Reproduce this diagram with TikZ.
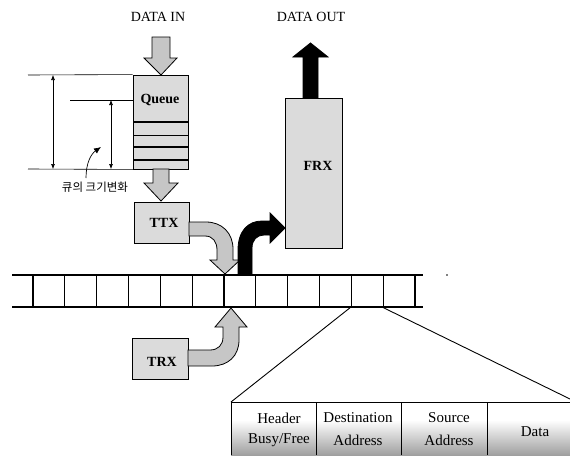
\documentclass[tikz,border=0pt]{standalone}
\usepackage{fontspec}
\setmainfont{Liberation Serif}
\newfontfamily\krfont{Noto Sans CJK KR}
\usetikzlibrary{arrows.meta}
\begin{document}
\begin{tikzpicture}[x=1pt,y=-1pt,
  lbl/.style={font=\fontsize{14}{16}\selectfont, inner sep=0pt},
  boxlbl/.style={font=\fontsize{14}{16}\selectfont\bfseries, inner sep=0pt},
  celllbl/.style={font=\fontsize{15}{17}\selectfont, inner sep=0pt},
  graybox/.style={draw=black, fill=gray!28, line width=0.9pt, inner sep=0pt},
  grayarrow/.style={draw=black, fill=gray!45, line width=0.8pt, line join=miter},
  blackarrow/.style={draw=black, fill=black, line width=0.8pt},
  thinline/.style={line width=0.6pt},
  ringline/.style={line width=1.1pt},
  dimarrow/.style={line width=0.6pt, {Latex[length=5pt,width=4pt]}-{Latex[length=5pt,width=4pt]}}
]
\useasboundingbox (0,0) rectangle (570,455);

% titles
\node[lbl] (datain) at (158,17) {DATA IN};
\node[lbl] (dataout) at (311,17) {DATA OUT};

% queue
\node[graybox, minimum width=55pt, minimum height=94pt] (queue) at (160.5,122) {};
\node[boxlbl] (queuelbl) at (160,100) {Queue};
\foreach \yy in {122,135.5,147,160}
  \draw[line width=1.6pt] (133,\yy) -- (188,\yy);

% DATA IN arrow
\draw[grayarrow] (152,37) -- (170,37) -- (170,58) -- (177,58) -- (161,75) -- (144,58) -- (152,58) -- cycle;
% queue -> TTX arrow
\draw[grayarrow] (153,169) -- (169,169) -- (169,183) -- (178,183) -- (161,201) -- (144,183) -- (153,183) -- cycle;

% dimension lines
\coordinate (d1a) at (28,75);  \coordinate (d1b) at (28,169);
\coordinate (d2a) at (70,100);
\draw[thinline] (d1a) -- (queue.north west);
\draw[thinline] (d2a) -- (133,100);
\draw[thinline] (d1b) -- (queue.south west);
\coordinate (v1t) at (53,75);  \coordinate (v1b) at (53,169);
\coordinate (v2t) at (111,100); \coordinate (v2b) at (111,169);
\draw[dimarrow] (v1t) -- (v1b);
\draw[dimarrow] (v2t) -- (v2b);
\coordinate (cs) at (86,178); \coordinate (ce) at (101,147);
\draw[line width=0.7pt, -{Latex[length=7pt,width=6pt]}] (cs) .. controls (86,163) and (91,154) .. (ce);
\node[font=\krfont\fontsize{11.5}{13}\selectfont, inner sep=0pt] (kr) at (95,187) {큐의 크기변화};

% TTX, TRX, FRX boxes
\node[graybox, minimum width=55pt, minimum height=41pt] (ttx) at (161.5,222.5) {};
\node[boxlbl] (ttxlbl) at (164,223) {TTX};
\node[graybox, minimum width=56pt, minimum height=41pt] (trx) at (160,358.5) {};
\node[boxlbl] (trxlbl) at (162,362) {TRX};
\node[graybox, minimum width=57pt, minimum height=150pt] (frx) at (313.5,173) {};
\node[boxlbl] (frxlbl) at (318,166) {FRX};

% DATA OUT arrow
\draw[blackarrow] (303,98) -- (303,57) -- (293,57) -- (310.5,43) -- (328,57) -- (318,57) -- (318,98) -- cycle;

% TTX -> ring curved arrow
\draw[grayarrow] (189,222) -- (206,222) .. controls (222,222) and (233,233) .. (233,249) -- (233,260) -- (240,260) -- (225,274) -- (210,260) -- (217,260) -- (217,250) .. controls (217,242) and (213,236) .. (205,236) -- (189,236) -- cycle;

% ring -> FRX black curved arrow
\draw[blackarrow] (238,275) -- (238,250) .. controls (238,231) and (248,221) .. (262,221) -- (270,221) -- (270,213) -- (285,228) -- (270,243) -- (270,235) -- (264,235) .. controls (257,235) and (252,240) .. (252,248) -- (252,275) -- cycle;

% TRX -> ring curved arrow
\draw[grayarrow] (188,350) -- (210,350) .. controls (218,350) and (223,345) .. (223,337) -- (223,327) -- (215,327) -- (231,308) -- (247,327) -- (239,327) -- (239,340) .. controls (239,356) and (228,366) .. (212,366) -- (188,366) -- cycle;

% ring
\coordinate (rl1) at (12,275); \coordinate (rr1) at (423,275);
\coordinate (rl2) at (12,307); \coordinate (rr2) at (423,307);
\draw[ringline] (rl1) -- (rr1);
\draw[ringline] (rl2) -- (rr2);
\foreach \i in {0,...,12}
  \draw[ringline] ({33+31.83*\i},275) -- ({33+31.83*\i},307);
\fill (447,275) circle (0.8pt);

% packet format
\shade[top color=white, bottom color=gray!75] (231,420) rectangle (570,455);
\coordinate (pl) at (231,402); \coordinate (pr) at (570,402);
\draw[line width=0.8pt] (231,455) -- (pl) -- (pr);
\foreach \xx in {316,401,487}
  \draw[line width=0.6pt] (\xx,402) -- (\xx,455);
\coordinate (c1) at (351,307); \coordinate (c2) at (382,307);
\draw[line width=0.9pt] (c1) -- (pl);
\draw[line width=0.9pt] (c2) -- (570,399);
\node[celllbl] (h1) at (279,418) {Header};
\node[celllbl] (h2) at (279,440) {Busy/Free};
\node[celllbl] (d1) at (358,418) {Destination};
\node[celllbl] (d2) at (358,440) {Address};
\node[celllbl] (s1) at (449,418) {Source};
\node[celllbl] (s2) at (449,440) {Address};
\node[celllbl] (dt) at (535,432) {Data};
\end{tikzpicture}
\end{document}
